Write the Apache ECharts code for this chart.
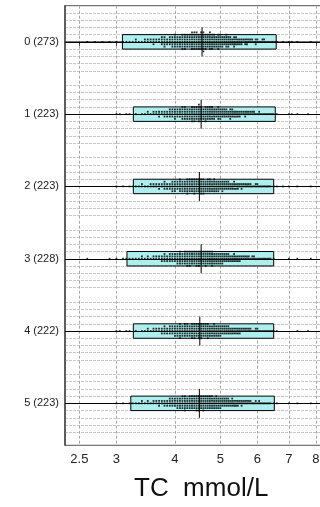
<!DOCTYPE html>
<html>
<head>
<meta charset="utf-8">
<script src="https://cdn.jsdelivr.net/npm/echarts@6/dist/echarts.min.js"></script>
<style>
  html, body { margin: 0; padding: 0; background: #fff; }
  #chart { width: 320px; height: 507px; }
</style>
</head>
<body>
<div id="chart"></div>
<script>
// Groups (visit number with sample size)
const groupLabels = ['0 (273)', '1 (223)', '2 (223)', '3 (228)', '4 (222)', '5 (223)'];

// Log-axis tick values, mmol/L
const tickValues = [2.5, 3, 4, 5, 6, 7, 8];

// Box edges and median per group, mmol/L
const boxLow    = [3.09, 3.26, 3.26, 3.16, 3.26, 3.22];
const boxMedian = [4.57, 4.55, 4.51, 4.55, 4.52, 4.51];
const boxHigh   = [6.58, 6.55, 6.50, 6.50, 6.50, 6.52];

// Individual TC values, as [value in mmol/L, number of subjects]
const tc0 = [[2.6,1],[2.7,1],[2.8,1],[2.9,1],[3.0,1],[3.1,1],[3.15,1],[3.2,1],[3.25,1],[3.3,2],[3.35,1],[3.4,1],[3.45,2],
  [3.5,2],[3.55,2],[3.6,3],[3.65,2],[3.7,2],[3.75,4],[3.8,5],[3.85,3],[3.9,4],[3.95,5],[4.0,6],[4.05,5],[4.1,5],[4.15,7],
  [4.2,7],[4.25,6],[4.3,6],[4.35,8],[4.4,8],[4.45,8],[4.5,7],[4.55,8],[4.6,9],[4.65,7],[4.7,6],[4.75,8],[4.8,7],[4.85,6],
  [4.9,5],[4.95,7],[5.0,6],[5.05,5],[5.1,4],[5.15,6],[5.2,5],[5.25,4],[5.3,3],[5.35,5],[5.4,4],[5.45,3],[5.5,3],[5.55,3],
  [5.6,2],[5.65,3],[5.7,3],[5.75,2],[5.8,2],[5.85,2],[5.9,1],[5.95,3],[6.0,2],[6.05,1],[6.1,1],[6.15,2],[6.2,2],[6.25,1],
  [6.3,1],[6.35,1],[6.4,1],[6.45,1],[6.5,1],[6.55,1],[6.6,1],[6.8,1],[7.0,1],[7.1,1],[7.3,1],[7.8,1]];
const tc1 = [[3.0,1],[3.05,1],[3.15,1],[3.2,1],[3.3,1],[3.4,1],[3.45,1],[3.5,2],[3.55,1],[3.6,2],[3.65,2],[3.7,3],[3.75,2],
  [3.8,3],[3.85,3],[3.9,4],[3.95,4],[4.0,5],[4.05,4],[4.1,4],[4.15,6],[4.2,6],[4.25,5],[4.3,5],[4.35,7],[4.4,7],[4.45,6],
  [4.5,8],[4.55,6],[4.6,5],[4.65,7],[4.7,6],[4.75,6],[4.8,6],[4.85,5],[4.9,4],[4.95,6],[5.0,5],[5.05,4],[5.1,4],[5.15,4],
  [5.2,3],[5.25,5],[5.3,4],[5.35,3],[5.4,3],[5.45,3],[5.5,3],[5.55,2],[5.6,2],[5.65,3],[5.7,2],[5.75,2],[5.8,2],[5.85,2],
  [5.9,2],[5.95,1],[6.0,1],[6.05,2],[6.1,1],[6.15,1],[6.2,1],[6.25,1],[6.3,1],[6.35,1],[6.4,1],[6.45,1],[6.5,1],[6.6,1],
  [7.0,1],[7.1,1],[7.3,1],[7.7,1]];
const tc2 = [[3.0,1],[3.1,1],[3.2,1],[3.25,1],[3.3,1],[3.35,1],[3.4,2],[3.45,1],[3.5,1],[3.55,2],[3.6,2],[3.65,2],[3.7,3],
  [3.75,2],[3.8,4],[3.85,3],[3.9,3],[3.95,5],[4.0,5],[4.05,4],[4.1,6],[4.15,5],[4.2,5],[4.25,7],[4.3,6],[4.35,6],[4.4,7],
  [4.45,6],[4.5,6],[4.55,7],[4.6,7],[4.65,5],[4.7,6],[4.75,6],[4.8,5],[4.85,6],[4.9,5],[4.95,5],[5.0,4],[5.05,5],[5.1,4],
  [5.15,4],[5.2,4],[5.25,3],[5.3,3],[5.35,4],[5.4,3],[5.45,3],[5.5,2],[5.55,3],[5.6,2],[5.65,2],[5.7,2],[5.75,2],[5.8,2],
  [5.85,1],[5.9,1],[5.95,2],[6.0,2],[6.05,1],[6.1,1],[6.15,1],[6.2,1],[6.25,1],[6.3,1],[6.35,1],[6.4,1],[6.5,1],[6.6,1],
  [6.8,1],[7.0,1],[7.3,1],[7.8,1]];
const tc3 = [[2.6,1],[2.9,1],[3.0,1],[3.1,1],[3.15,1],[3.2,1],[3.25,1],[3.3,1],[3.35,1],[3.4,2],[3.45,1],[3.5,2],[3.55,1],
  [3.6,2],[3.65,2],[3.7,2],[3.75,3],[3.8,4],[3.85,3],[3.9,4],[3.95,4],[4.0,4],[4.05,5],[4.1,6],[4.15,5],[4.2,6],[4.25,7],
  [4.3,7],[4.35,6],[4.4,6],[4.45,7],[4.5,7],[4.55,6],[4.6,6],[4.65,7],[4.7,6],[4.75,6],[4.8,7],[4.85,5],[4.9,5],[4.95,5],
  [5.0,5],[5.05,5],[5.1,4],[5.15,4],[5.2,4],[5.25,3],[5.3,3],[5.35,4],[5.4,3],[5.45,3],[5.5,3],[5.55,2],[5.6,2],[5.65,2],
  [5.7,2],[5.75,2],[5.8,1],[5.85,2],[5.9,2],[5.95,1],[6.0,1],[6.05,1],[6.1,1],[6.15,1],[6.2,1],[6.25,1],[6.3,1],[6.35,1],
  [6.4,1],[6.5,1],[7.0,1],[7.3,1],[7.8,1]];
const tc4 = [[3.0,1],[3.05,1],[3.15,1],[3.2,1],[3.3,1],[3.4,1],[3.45,1],[3.5,2],[3.55,1],[3.6,2],[3.65,2],[3.7,2],[3.75,3],
  [3.8,4],[3.85,3],[3.9,4],[3.95,4],[4.0,5],[4.05,5],[4.1,7],[4.15,5],[4.2,6],[4.25,6],[4.3,5],[4.35,7],[4.4,7],[4.45,6],
  [4.5,7],[4.55,7],[4.6,6],[4.65,6],[4.7,7],[4.75,5],[4.8,5],[4.85,6],[4.9,5],[4.95,5],[5.0,5],[5.05,4],[5.1,4],[5.15,4],
  [5.2,4],[5.25,3],[5.3,3],[5.35,3],[5.4,3],[5.45,3],[5.5,3],[5.55,2],[5.6,2],[5.65,2],[5.7,2],[5.75,2],[5.8,2],[5.85,1],
  [5.9,1],[5.95,2],[6.0,2],[6.05,1],[6.1,1],[6.15,1],[6.2,1],[6.25,1],[6.3,1],[6.35,1],[6.4,1],[6.45,1],[6.5,1],[6.6,1],
  [7.3,1],[7.7,1]];
const tc5 = [[3.0,1],[3.1,1],[3.2,1],[3.25,1],[3.3,1],[3.35,1],[3.4,2],[3.45,1],[3.5,2],[3.55,1],[3.6,2],[3.65,2],[3.7,3],
  [3.75,2],[3.8,3],[3.85,3],[3.9,4],[3.95,4],[4.0,4],[4.05,5],[4.1,5],[4.15,6],[4.2,7],[4.25,5],[4.3,6],[4.35,6],[4.4,6],
  [4.45,7],[4.5,7],[4.55,6],[4.6,7],[4.65,6],[4.7,6],[4.75,6],[4.8,6],[4.85,5],[4.9,6],[4.95,5],[5.0,5],[5.05,4],[5.1,4],
  [5.15,4],[5.2,4],[5.25,3],[5.3,4],[5.35,3],[5.4,3],[5.45,3],[5.5,2],[5.55,3],[5.6,2],[5.65,2],[5.7,2],[5.75,2],[5.8,2],
  [5.85,1],[5.9,1],[5.95,2],[6.0,1],[6.05,2],[6.1,1],[6.15,1],[6.2,1],[6.25,1],[6.3,1],[6.35,1],[6.4,1],[6.5,1],[6.6,1],
  [7.0,1],[7.3,1],[7.8,1]];
const tcGroups = [tc0, tc1, tc2, tc3, tc4, tc5];

const lg = Math.log10;
const FONT = '"Liberation Sans", Arial, sans-serif';

// Horizontal axis runs on log10(mmol/L)
const X_MIN = lg(2.33);
const X_MAX = lg(8.5);
const PX_PER_DECADE = 468.4;
const GRID_LEFT = 65;
const GRID_TOP = 5.7;
const GRID_WIDTH = PX_PER_DECADE * (X_MAX - X_MIN);
const Y_MIN = -0.5;
const Y_MAX = 5.58;
const GRID_HEIGHT = 72.3 * (Y_MAX - Y_MIN);

// Faint row rules at every tenth of a group step, except group centres and midpoints
const rowRules = [];
for (let k = -4; k <= 54; k++) {
  if (k % 5 !== 0) rowRules.push(k / 10);
}

// Stack equal values into a vertical column centred on the group line
const STACK_STEP = 0.033;
const dotData = [];
tcGroups.forEach((group, g) => {
  group.forEach(([v, n]) => {
    for (let k = 0; k < n; k++) {
      const level = Math.ceil(k / 2) * (k % 2 === 1 ? -1 : 1);
      dotData.push([lg(v), g + level * STACK_STEP]);
    }
  });
});

const boxData = groupLabels.map((_, i) => [i, boxLow[i], boxMedian[i], boxHigh[i]]);

function renderBox(params, api) {
  const g = api.value(0);
  const a = api.coord([lg(api.value(1)), g - 0.1]);
  const b = api.coord([lg(api.value(3)), g + 0.1]);
  const m1 = api.coord([lg(api.value(2)), g - 0.2]);
  const m2 = api.coord([lg(api.value(2)), g + 0.2]);
  return {
    type: 'group',
    children: [
      {
        type: 'rect',
        shape: {
          x: Math.min(a[0], b[0]), y: Math.min(a[1], b[1]),
          width: Math.abs(b[0] - a[0]), height: Math.abs(b[1] - a[1])
        },
        style: { fill: '#aeeeee', stroke: '#000', lineWidth: 1 }
      },
      {
        type: 'line',
        shape: { x1: m1[0], y1: m1[1], x2: m2[0], y2: m2[1] },
        style: { stroke: '#000', lineWidth: 1 }
      }
    ]
  };
}

const chart = echarts.init(document.getElementById('chart'), null, { renderer: 'canvas' });
chart.setOption({
  animation: false,
  backgroundColor: '#fff',
  grid: {
    left: GRID_LEFT, top: GRID_TOP, width: GRID_WIDTH, height: GRID_HEIGHT,
    containLabel: false, outerBoundsMode: 'none',
    show: true, borderColor: '#555', borderWidth: 1, backgroundColor: 'transparent'
  },
  xAxis: {
    type: 'value',
    min: X_MIN, max: X_MAX,
    axisLine: { show: true, lineStyle: { color: '#444', width: 1.5 } },
    axisTick: { show: true, length: 4, customValues: tickValues.map(lg), lineStyle: { color: '#444' } },
    axisLabel: {
      customValues: tickValues.map(lg),
      formatter: v => {
        const t = tickValues.find(tv => Math.abs(lg(tv) - v) < 1e-6);
        return t === undefined ? '' : String(t);
      },
      fontFamily: FONT, fontSize: 13, color: '#222', margin: 8
    },
    splitLine: { show: true, lineStyle: { color: '#a8a8a8', type: [3, 2], width: 1 } }
  },
  yAxis: {
    type: 'value',
    min: Y_MIN, max: Y_MAX, inverse: true,
    axisLine: { show: true, lineStyle: { color: '#444', width: 1.5 } },
    axisTick: { show: false, customValues: rowRules },
    axisLabel: {
      customValues: groupLabels.map((_, i) => i),
      formatter: v => groupLabels[Math.round(v)] || '',
      fontFamily: FONT, fontSize: 11, color: '#222', margin: 6
    },
    splitLine: { show: true, lineStyle: { color: '#c8c8c8', type: [3, 1], width: 1 } }
  },
  graphic: [{
    type: 'text',
    left: 201 - 67, top: 476,
    style: { text: 'TC  mmol/L', fontFamily: FONT, fontSize: 26, fill: '#111' }
  }],
  series: [
    {
      // group centre lines
      type: 'scatter', data: [], z: 1, silent: true,
      markLine: {
        silent: true, symbol: 'none', animation: false,
        label: { show: false },
        lineStyle: { color: '#000', width: 1, type: 'solid' },
        data: groupLabels.map((_, i) => ({ yAxis: i }))
      }
    },
    {
      type: 'custom', z: 2, silent: true,
      renderItem: renderBox,
      data: boxData
    },
    {
      type: 'scatter', z: 3, silent: true,
      symbol: 'rect', symbolSize: 1.8,
      itemStyle: { color: '#000' },
      data: dotData
    }
  ]
});
</script>
</body>
</html>
